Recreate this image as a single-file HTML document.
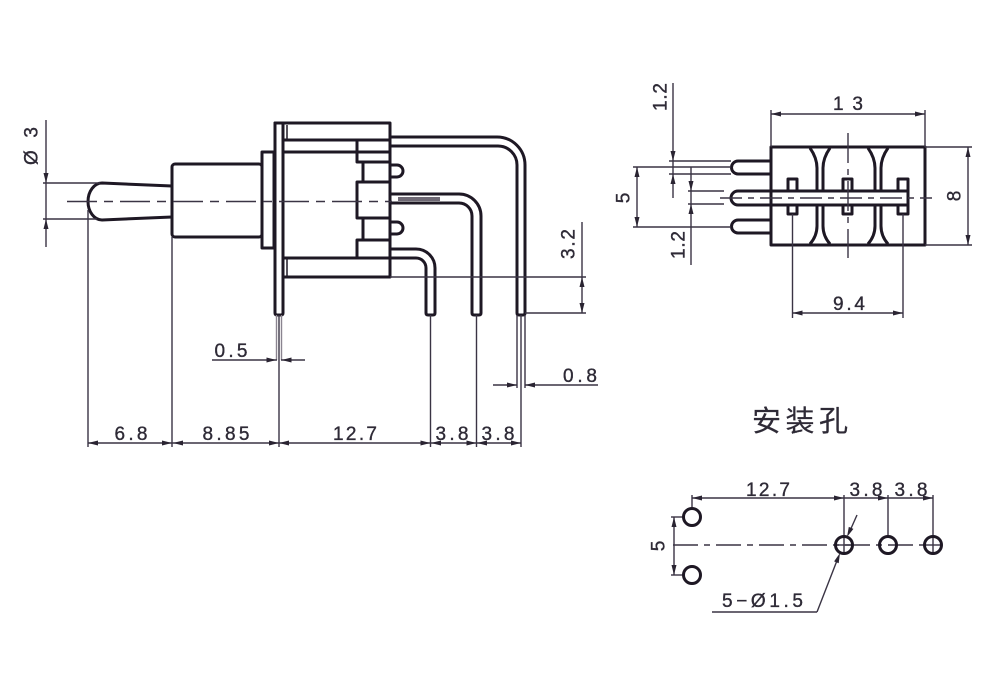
<!DOCTYPE html>
<html>
<head>
<meta charset="utf-8">
<style>
  html,body{margin:0;padding:0;background:#fff;}
  svg{display:block;}
  text{font-family:"Liberation Sans","Noto Sans CJK SC",sans-serif;fill:#2e2a36;stroke:#2e2a36;stroke-width:0.35;}
</style>
</head>
<body>
<svg width="1000" height="685" viewBox="0 0 1000 685" xmlns="http://www.w3.org/2000/svg">
  <rect width="1000" height="685" fill="#fff"/>

  <!-- ================= FRONT VIEW ================= -->
  <g fill="none" stroke="#1e1824" stroke-width="3" stroke-linejoin="round" stroke-linecap="round">
    <path d="M172,186 L102,183 A14,18.5 0 0 0 102,220 L172,217"/>
    <rect x="172" y="164" width="90" height="73" rx="3"/>
    <rect x="262" y="152" width="12" height="96"/>
    <path d="M275,123 V313 Q275,315 277,315 H281 Q283,315 283,313 V123"/>
    <path d="M275,123 H390 V277 H283"/>
    <line x1="283" y1="140" x2="390" y2="140"/>
    <line x1="283" y1="152" x2="357" y2="152"/>
    <line x1="283" y1="258" x2="390" y2="258"/>
    <path d="M357,140 V162 H363 V182 H357 V218 H363 V240 H357 V258"/>
    <line x1="357" y1="152" x2="390" y2="152"/>
    <line x1="363" y1="162" x2="390" y2="162"/>
    <line x1="363" y1="182" x2="390" y2="182"/>
    <line x1="363" y1="218" x2="390" y2="218"/>
    <line x1="363" y1="240" x2="390" y2="240"/>
    <path d="M390,165 H397 A6,6 0 0 1 397,177 H390"/>
    <path d="M390,222 H397 A6,6 0 0 1 397,234 H390"/>
    <path d="M390,137 H497 A28,28 0 0 1 525,165 V313 Q525,315 523,315 H519 Q517,315 517,313 V165 A19,19 0 0 0 498,146 H390"/>
    <path d="M390,194 H459 A22,22 0 0 1 481,216 V313 Q481,315 479,315 H474 Q472,315 472,313 V216 A13,13 0 0 0 459,203 H390"/>
    <path d="M390,249 H416 A19,19 0 0 1 435,268 V313 Q435,315 433,315 H428 Q426,315 426,313 V268 A10,10 0 0 0 416,258 H390"/>
  </g>
  <g fill="none" stroke="#1e1824" stroke-width="1.5">
    <line x1="287" y1="125" x2="287" y2="139"/>
    <line x1="287" y1="259" x2="287" y2="276"/>
  </g>
  <rect x="398" y="197" width="42" height="4" fill="#6e6874"/>
  <line x1="67" y1="201.5" x2="392" y2="201.5" stroke="#3a3444" stroke-width="1.6" stroke-dasharray="30 7 9 7"/>

  <g stroke="#3a3444" stroke-width="1.4" fill="none">
    <line x1="46" y1="120" x2="46" y2="247"/>
    <line x1="43" y1="183" x2="100" y2="183"/>
    <line x1="43" y1="219" x2="97" y2="219"/>
    <line x1="88" y1="210" x2="88" y2="447"/>
    <line x1="172" y1="237" x2="172" y2="447"/>
    <line x1="279" y1="315" x2="279" y2="447"/>
    <line x1="276.5" y1="315" x2="276.5" y2="360" stroke="#8a8490"/>
    <line x1="281.5" y1="315" x2="281.5" y2="360" stroke="#8a8490"/>
    <line x1="430.5" y1="315" x2="430.5" y2="447"/>
    <line x1="476.5" y1="315" x2="476.5" y2="447"/>
    <line x1="517" y1="315" x2="517" y2="388"/>
    <line x1="525" y1="315" x2="525" y2="388"/>
    <line x1="521" y1="315" x2="521" y2="447"/>
    <line x1="88" y1="443" x2="521" y2="443"/>
    <line x1="212" y1="360" x2="277" y2="360"/>
    <line x1="281" y1="360" x2="305" y2="360"/>
    <line x1="493" y1="385" x2="517" y2="385"/>
    <line x1="525" y1="385" x2="598" y2="385"/>
    <line x1="390" y1="277" x2="586" y2="277"/>
    <line x1="525" y1="313" x2="586" y2="313"/>
    <line x1="582" y1="222" x2="582" y2="313"/>
  </g>
  <g fill="#2a2432">
    <polygon points="46,183 43.5,173 48.5,173"/>
    <polygon points="46,219 43.5,229 48.5,229"/>
    <polygon points="88,443 98,440.5 98,445.5"/>
    <polygon points="172,443 162,440.5 162,445.5"/>
    <polygon points="173,443 183,440.5 183,445.5"/>
    <polygon points="279,443 269,440.5 269,445.5"/>
    <polygon points="279,443 289,440.5 289,445.5"/>
    <polygon points="430.5,443 420.5,440.5 420.5,445.5"/>
    <polygon points="431,443 441,440.5 441,445.5"/>
    <polygon points="476.5,443 466.5,440.5 466.5,445.5"/>
    <polygon points="477,443 487,440.5 487,445.5"/>
    <polygon points="521,443 511,440.5 511,445.5"/>
    <polygon points="276.5,360 266.5,357.5 266.5,362.5"/>
    <polygon points="281.5,360 291.5,357.5 291.5,362.5"/>
    <polygon points="517,385 507,382.5 507,387.5"/>
    <polygon points="525,385 535,382.5 535,387.5"/>
    <polygon points="582,277 579.5,287 584.5,287"/>
    <polygon points="582,313 579.5,303 584.5,303"/>
  </g>
  <g font-size="19">
    <text x="32" y="146" text-anchor="middle" dominant-baseline="central" transform="rotate(-90 32 146)" textLength="38" lengthAdjust="spacing">Ø3</text>
    <text x="131" y="440" text-anchor="middle" textLength="33" lengthAdjust="spacing">6.8</text>
    <text x="226" y="440" text-anchor="middle" textLength="47" lengthAdjust="spacing">8.85</text>
    <text x="355" y="440" text-anchor="middle" textLength="44" lengthAdjust="spacing">12.7</text>
    <text x="452" y="440" text-anchor="middle" textLength="33" lengthAdjust="spacing">3.8</text>
    <text x="498" y="440" text-anchor="middle" textLength="33" lengthAdjust="spacing">3.8</text>
    <text x="231" y="357" text-anchor="middle" textLength="33" lengthAdjust="spacing">0.5</text>
    <text x="580" y="382" text-anchor="middle" textLength="34" lengthAdjust="spacing">0.8</text>
    <text x="569" y="244" text-anchor="middle" dominant-baseline="central" transform="rotate(-90 569 244)" textLength="30" lengthAdjust="spacing">3.2</text>
  </g>

  <!-- ================= SIDE VIEW ================= -->
  <g fill="none" stroke="#1e1824" stroke-width="3" stroke-linejoin="round">
    <rect x="771" y="147" width="154" height="98"/>
    <path d="M771,161 H738 A6.5,6.5 0 0 0 738,174 H771"/>
    <path d="M771,220 H738 A6.5,6.5 0 0 0 738,233 H771"/>
    <path d="M907,191 H738 A7,7 0 0 0 738,205 H907"/>
    <path d="M788,191 V179 H797 V191"/>
    <path d="M788,205 V214 H797 V205"/>
    <path d="M843,191 V179 H852 V191"/>
    <path d="M843,205 V214 H852 V205"/>
    <path d="M898,191 V179 H908 V214 H898 V205"/>
    <path d="M810,148 Q817,158 817,168 V191"/>
    <path d="M830,148 Q823,158 823,168 V191"/>
    <path d="M817,205 V226 Q817,236 810,244"/>
    <path d="M823,205 V226 Q823,236 830,244"/>
    <path d="M868,148 Q875,158 875,168 V191"/>
    <path d="M888,148 Q881,158 881,168 V191"/>
    <path d="M875,205 V226 Q875,236 868,244"/>
    <path d="M881,205 V226 Q881,236 888,244"/>
  </g>
  <g stroke="#3a3444" stroke-width="1.4" fill="none">
    <line x1="720" y1="198" x2="932" y2="198" stroke-dasharray="22 6 6 6"/>
    <line x1="848" y1="133" x2="848" y2="258" stroke-dasharray="30 6 6 6"/>
    <line x1="771" y1="110" x2="771" y2="147"/>
    <line x1="925" y1="110" x2="925" y2="147"/>
    <line x1="771" y1="114" x2="925" y2="114"/>
    <line x1="925" y1="147" x2="972" y2="147"/>
    <line x1="925" y1="245" x2="972" y2="245"/>
    <line x1="968" y1="147" x2="968" y2="245"/>
    <line x1="792.5" y1="214" x2="792.5" y2="318"/>
    <line x1="903" y1="214" x2="903" y2="318"/>
    <line x1="792.5" y1="313" x2="903" y2="313"/>
    <line x1="673" y1="83" x2="673" y2="198"/>
    <line x1="669" y1="161" x2="731" y2="161"/>
    <line x1="669" y1="174" x2="731" y2="174"/>
    <line x1="633" y1="167" x2="731" y2="167"/>
    <line x1="633" y1="227" x2="731" y2="227"/>
    <line x1="637" y1="167" x2="637" y2="227"/>
    <line x1="691" y1="167" x2="691" y2="265"/>
    <line x1="688" y1="191" x2="724" y2="191"/>
    <line x1="688" y1="204" x2="724" y2="204"/>
  </g>
  <g fill="#2a2432">
    <polygon points="771,114 781,111.5 781,116.5"/>
    <polygon points="925,114 915,111.5 915,116.5"/>
    <polygon points="968,147 965.5,157 970.5,157"/>
    <polygon points="968,245 965.5,235 970.5,235"/>
    <polygon points="792.5,313 802.5,310.5 802.5,315.5"/>
    <polygon points="903,313 893,310.5 893,315.5"/>
    <polygon points="673,161 670.5,151 675.5,151"/>
    <polygon points="673,174 670.5,184 675.5,184"/>
    <polygon points="637,167 634.5,177 639.5,177"/>
    <polygon points="637,227 634.5,217 639.5,217"/>
    <polygon points="691,191 688.5,181 693.5,181"/>
    <polygon points="691,204 688.5,214 693.5,214"/>
  </g>
  <g font-size="19">
    <text x="848" y="110" text-anchor="middle" textLength="30" lengthAdjust="spacing">13</text>
    <text x="849" y="310" text-anchor="middle" textLength="32" lengthAdjust="spacing">9.4</text>
    <text x="955" y="196" text-anchor="middle" dominant-baseline="central" transform="rotate(-90 955 196)">8</text>
    <text x="624" y="198" text-anchor="middle" dominant-baseline="central" transform="rotate(-90 624 198)">5</text>
    <text x="661" y="97" text-anchor="middle" dominant-baseline="central" transform="rotate(-90 661 97)" textLength="28" lengthAdjust="spacing">1.2</text>
    <text x="679" y="245" text-anchor="middle" dominant-baseline="central" transform="rotate(-90 679 245)" textLength="28" lengthAdjust="spacing">1.2</text>
  </g>

  <!-- ================= MOUNTING HOLES ================= -->
  <text x="752" y="431" font-size="29" textLength="96" lengthAdjust="spacing" style="stroke-width:0.2">安装孔</text>
  <g stroke="#3a3444" stroke-width="1.4" fill="none">
    <line x1="673" y1="545" x2="928" y2="545" stroke-dasharray="25 6 6 6"/>
    <line x1="692" y1="495" x2="692" y2="508"/>
    <line x1="844" y1="495" x2="844" y2="536"/>
    <line x1="888" y1="495" x2="888" y2="536"/>
    <line x1="933" y1="495" x2="933" y2="536"/>
    <line x1="692" y1="498" x2="933" y2="498"/>
    <line x1="671" y1="517" x2="684" y2="517"/>
    <line x1="671" y1="575" x2="684" y2="575"/>
    <line x1="674" y1="517" x2="674" y2="575"/>
    <line x1="836" y1="545" x2="852" y2="545"/>
    <line x1="844" y1="537" x2="844" y2="553"/>
    <line x1="925" y1="545" x2="941" y2="545"/>
    <line x1="933" y1="537" x2="933" y2="553"/>
    <line x1="857" y1="515" x2="849" y2="533"/>
    <line x1="817" y1="612" x2="838" y2="558"/>
    <line x1="712" y1="612" x2="817" y2="612"/>
  </g>
  <g fill="none" stroke="#1e1824" stroke-width="3">
    <circle cx="692" cy="517" r="8.5"/>
    <circle cx="692" cy="575" r="8.5"/>
    <circle cx="844" cy="545" r="8.5"/>
    <circle cx="888" cy="545" r="8.5"/>
    <circle cx="933" cy="545" r="8.5"/>
  </g>
  <g fill="#2a2432">
    <polygon points="692,498 702,495.5 702,500.5"/>
    <polygon points="844,498 834,495.5 834,500.5"/>
    <polygon points="888,498 878,495.5 878,500.5"/>
    <polygon points="933,498 923,495.5 923,500.5"/>
    <polygon points="674,517 671.5,527 676.5,527"/>
    <polygon points="674,575 671.5,565 676.5,565"/>
    <polygon points="847,537 853.4,528.9 848.8,526.9"/>
    <polygon points="840,553 838.7,563.2 834.1,561.4"/>
  </g>
  <g font-size="19">
    <text x="768" y="496" text-anchor="middle" textLength="44" lengthAdjust="spacing">12.7</text>
    <text x="866" y="496" text-anchor="middle" textLength="33" lengthAdjust="spacing">3.8</text>
    <text x="911" y="496" text-anchor="middle" textLength="33" lengthAdjust="spacing">3.8</text>
    <text x="659" y="546" text-anchor="middle" dominant-baseline="central" transform="rotate(-90 659 546)">5</text>
    <text x="722" y="607" textLength="81" lengthAdjust="spacing">5−Ø1.5</text>
  </g>
</svg>
</body>
</html>
